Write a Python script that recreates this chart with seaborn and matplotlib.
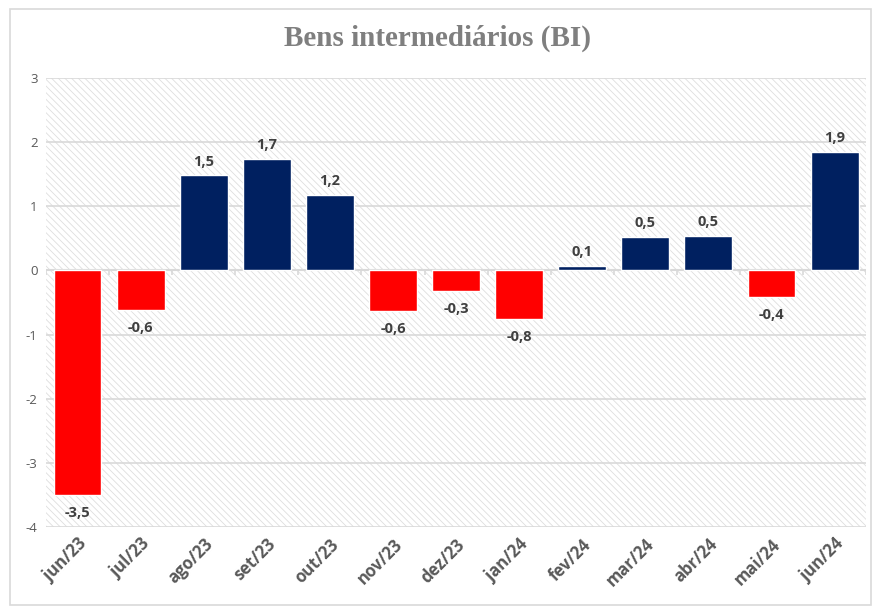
import numpy as np
import pandas as pd
import seaborn as sns
import matplotlib.pyplot as plt
from matplotlib.patches import Rectangle

# dados
meses = ["jun/23", "jul/23", "ago/23", "set/23", "out/23", "nov/23", "dez/23",
         "jan/24", "fev/24", "mar/24", "abr/24", "mai/24", "jun/24"]
valores = [-3.5, -0.61, 1.48, 1.74, 1.18, -0.63, -0.32, -0.75, 0.07, 0.52, 0.54, -0.41, 1.85]
rotulos = ["-3,5", "-0,6", "1,5", "1,7", "1,2", "-0,6", "-0,3", "-0,8", "0,1", "0,5", "0,5", "-0,4", "1,9"]
yticks = [-4, -3, -2, -1, 0, 1, 2, 3]

sns.set_style("white")
plt.rcParams['font.family'] = ['Open Sans', 'DejaVu Sans']
plt.rcParams['axes.unicode_minus'] = False
plt.rcParams['hatch.linewidth'] = 0.6

df = pd.DataFrame({"mes": meses, "valor": valores})
df["sinal"] = np.where(df["valor"] >= 0, "pos", "neg")

fig = plt.figure(figsize=(8.74, 6.09), dpi=100)
ax = fig.add_axes([0.0526, 0.1346, 0.9384, 0.7374])

# fundo hachurado
ax.patch.set_facecolor("white")
ax.patch.set_hatch("\\\\\\\\\\")
ax.patch.set_edgecolor("#dedede")
ax.patch.set_linewidth(0)

sns.barplot(data=df, x="mes", y="valor", hue="sinal", hue_order=["neg", "pos"],
            palette={"pos": "#002060", "neg": "#FF0000"}, saturation=1,
            dodge=False, width=0.76, legend=False, ax=ax, zorder=3)

ax.set_ylim(-4, 3)
ax.set_xlim(-0.5, len(meses) - 0.5)
ax.set_yticks(yticks)
ax.set_yticklabels([str(t) for t in yticks], color="#595959", fontsize=9.5)
for t in yticks:
    ax.axhline(t, color="#d9d9d9", lw=1.2, zorder=1)
ax.axhline(0, color="#d9d9d9", lw=1.5, zorder=2)
# marcas das categorias no eixo zero
ax.vlines(np.arange(len(meses) + 1) - 0.5, -0.07, 0, color="#d9d9d9", lw=1.2, zorder=2)

ax.set_xlabel("")
ax.set_ylabel("")
ax.tick_params(axis="both", length=0, pad=6)
plt.setp(ax.get_xticklabels(), rotation=45, ha="right", rotation_mode="anchor",
         fontsize=12, fontweight="bold", color="#595959")
for s in ax.spines.values():
    s.set_visible(False)

# rotulos das barras
for cont, pad in zip(ax.containers, [8, 5]):
    labs = []
    for bar in cont:
        h = bar.get_height()
        if np.isnan(h):
            labs.append("")
        else:
            labs.append(rotulos[int(round(bar.get_x() + bar.get_width() / 2))])
    ax.bar_label(cont, labels=labs, padding=pad, fontsize=10.5, fontweight="bold", color="#404040")

fig.suptitle("Bens intermediários (BI)", x=0.5, y=0.96, fontsize=21, fontweight="bold",
             color="#7f7f7f", family=["Liberation Serif", "DejaVu Serif"])

# borda externa
fig.add_artist(Rectangle((0.012, 0.006), 0.984, 0.98, transform=fig.transFigure,
                         fill=False, edgecolor="#d9d9d9", lw=1.2))

fig.savefig("out.png", dpi=100)
